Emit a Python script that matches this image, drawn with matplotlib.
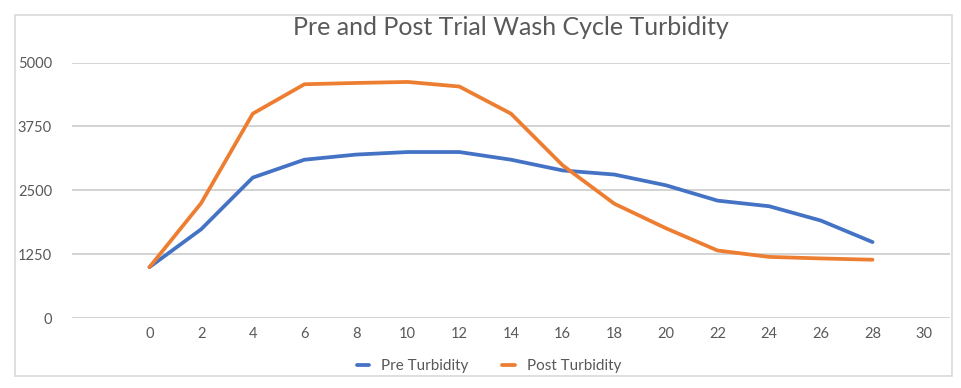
import matplotlib
matplotlib.use("Agg")
import matplotlib.pyplot as plt
from matplotlib.patches import Rectangle

x_vals = [0, 2, 4, 6, 8, 10, 12, 14, 16, 18, 20, 22, 24, 26, 28]
pre_turbidity = [1000, 1740, 2750, 3100, 3200, 3250, 3250, 3100, 2890, 2810, 2600, 2300, 2190, 1910, 1490]
post_turbidity = [1000, 2250, 4000, 4575, 4600, 4620, 4530, 4000, 2990, 2240, 1760, 1325, 1200, 1170, 1145]
x_ticks = list(range(0, 31, 2))
y_ticks = [0, 1250, 2500, 3750, 5000]
title = "Pre and Post Trial Wash Cycle Turbidity"

plt.rcParams['font.family'] = ['Lato', 'DejaVu Sans']
W, H = 962, 388
fig = plt.figure(figsize=(W/100, H/100), dpi=100)
fig.patch.set_facecolor('white')

# outer chart border
fig.add_artist(Rectangle((15.3/W, 1-376/H), 937/W, 360.7/H, transform=fig.transFigure,
                         fill=False, edgecolor='#d9d9d9', linewidth=1.2))

ax = fig.add_axes([72/W, 1-318.3/H, (950-72)/W, (318.3-62.5)/H])
ax.plot(x_vals, pre_turbidity, color='#4472C4', linewidth=2.7, solid_capstyle='round', label='Pre Turbidity', zorder=3)
ax.plot(x_vals, post_turbidity, color='#ED7D31', linewidth=2.7, solid_capstyle='round', label='Post Turbidity', zorder=3)
ax.set_xlim(-3, 31)
ax.set_ylim(0, 5000)
ax.set_xticks(x_ticks)
ax.set_yticks(y_ticks)
ax.grid(axis='y', color='#d0d0d0', linewidth=1.3)
ax.set_axisbelow(True)
for s in ax.spines.values():
    s.set_visible(False)
ax.tick_params(length=0, labelcolor='#595959', labelsize=10.5)
ax.tick_params(axis='x', pad=6.5)
ax.tick_params(axis='y', pad=14.4)
ax.set_title(title, fontsize=18, color='#595959', pad=19.5)

leg = fig.legend(loc='center', bbox_to_anchor=(489/W, 1-366/H), ncol=2, frameon=False,
                 fontsize=11, handlelength=0.8, columnspacing=2.2, handletextpad=0.8)
for t in leg.get_texts():
    t.set_color('#595959')

fig.savefig('out.png', dpi=100)
